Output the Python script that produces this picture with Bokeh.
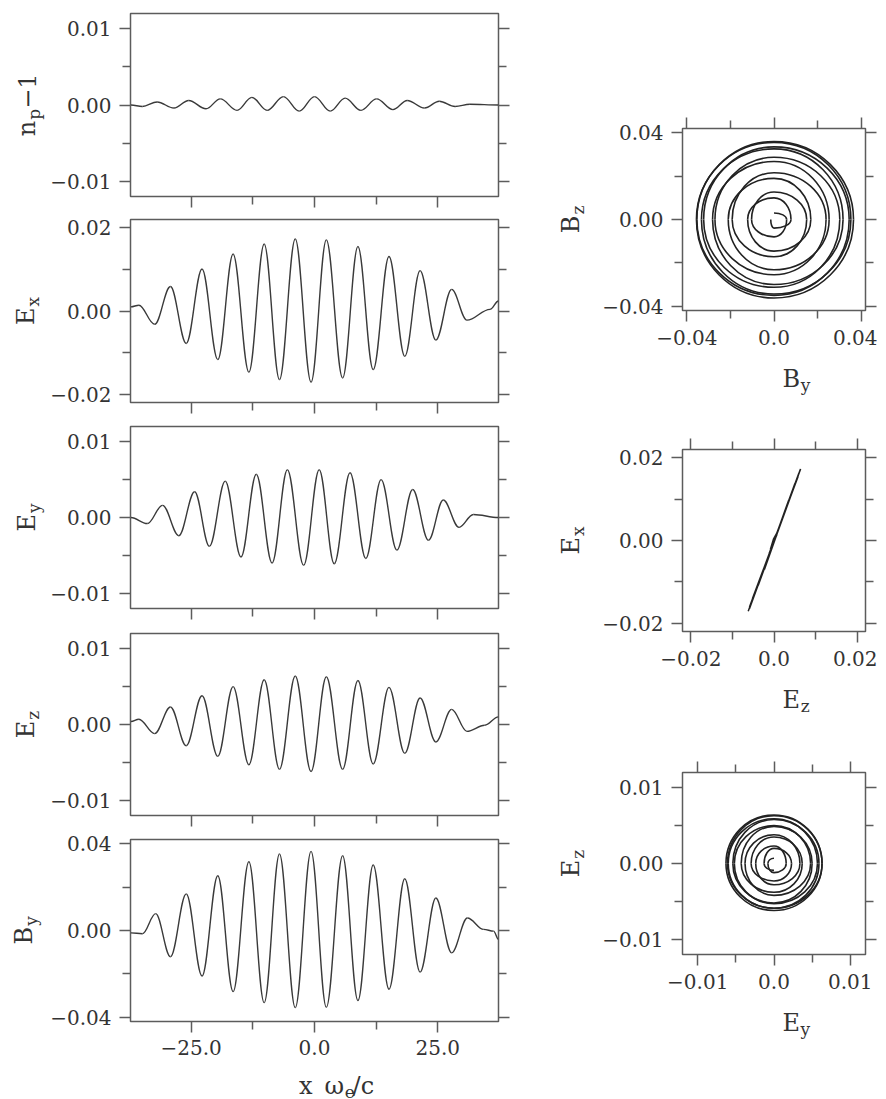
from math import pi
import numpy as np
from bokeh.plotting import figure
from bokeh.models import Range1d, FixedTicker, LinearAxis, ColumnDataSource, CustomLabelingPolicy
from bokeh.core.properties import value
from bokeh.layouts import row, column
from bokeh.embed import file_html
from bokeh.resources import INLINE

# ---------------- data ----------------
x_lim = [-37.3, 37.3]
x_ticks = [-25.0, 0.0, 25.0]
x_minor = [-12.5, 12.5]
x_tick_labels = ["\u221225.0", "0.0", "25.0"]

# n_p - 1 : key points (extrema) along x
np_x = [-37.2, -34.9, -31.9, -28.5, -25.5, -22.0, -19.1, -15.7, -12.7, -9.6, -6.3, -3.1,
        0.0, 3.2, 6.2, 9.4, 12.6, 15.9, 18.8, 22.3, 25.3, 28.5, 31.5, 37.3]
np_y = [0.0, -0.0002, 0.0004, -0.0004, 0.0006, -0.0005, 0.0008, -0.0007, 0.0010, -0.0007,
        0.0011, -0.0008, 0.0011, -0.0008, 0.0009, -0.0007, 0.0008, -0.0006, 0.0006, -0.0004,
        0.0005, -0.0002, 0.0001, 0.0]

# E_x
ex_x = [-37.2, -35.6, -32.4, -29.2, -26.0, -22.8, -19.6, -16.5, -13.3, -10.2, -7.1, -3.9,
        -0.7, 2.4, 5.7, 8.8, 11.9, 15.1, 18.3, 21.4, 24.6, 27.8, 30.9, 35.6, 37.3]
ex_y = [0.0010, 0.0014, -0.0032, 0.0059, -0.0078, 0.0101, -0.0117, 0.0137, -0.0147, 0.0161,
        -0.0165, 0.0173, -0.0171, 0.0171, -0.0161, 0.0155, -0.0141, 0.0131, -0.0109, 0.0097,
        -0.0070, 0.0052, -0.0022, 0.0004, 0.0024]

# E_y
ey_x = [-37.2, -33.9, -30.8, -27.5, -24.3, -21.3, -18.1, -14.9, -11.8, -8.6, -5.5, -2.2,
        0.95, 4.0, 7.2, 10.4, 13.5, 16.7, 19.9, 23.1, 26.1, 29.3, 32.2, 37.3]
ey_y = [0.0, -0.0008, 0.0016, -0.0024, 0.0034, -0.0038, 0.0048, -0.0052, 0.0057, -0.0060,
        0.0063, -0.0063, 0.0063, -0.0061, 0.0059, -0.0054, 0.0050, -0.0043, 0.0037, -0.0030,
        0.0023, -0.0013, 0.0004, 0.0]

# E_z
ez_x = [-37.2, -35.6, -32.4, -29.2, -26.0, -22.8, -19.6, -16.5, -13.3, -10.2, -7.1, -3.9,
        -0.7, 2.4, 5.7, 8.8, 11.9, 15.1, 18.3, 21.4, 24.6, 27.8, 30.9, 34.5, 37.3]
ez_y = [0.0004, 0.0007, -0.0012, 0.0023, -0.0028, 0.0038, -0.0042, 0.0050, -0.0053, 0.0059,
        -0.0059, 0.0064, -0.0062, 0.0063, -0.0059, 0.0058, -0.0052, 0.0049, -0.0038, 0.0035,
        -0.0023, 0.0020, -0.0009, -0.0001, 0.0010]

# B_y
by_x = [-37.2, -34.9, -32.2, -29.2, -26.0, -22.8, -19.6, -16.5, -13.3, -10.2, -7.1, -3.9,
        -0.7, 2.4, 5.7, 8.8, 11.9, 15.1, 18.3, 21.4, 24.6, 27.8, 31.0, 34.3, 36.3, 37.3]
by_y = [-0.0011, -0.0015, 0.0078, -0.0121, 0.0169, -0.0210, 0.0253, -0.0282, 0.0317, -0.0333,
        0.0353, -0.0356, 0.0365, -0.0354, 0.0345, -0.0323, 0.0302, -0.0271, 0.0239, -0.0192,
        0.0150, -0.0103, 0.0058, 0.0005, -0.0003, -0.0041]

# B_z extrema (only seen in the B_z-B_y hodograph)
bz_x = [-33.9, -30.8, -27.5, -24.3, -21.3, -18.1, -14.9, -11.8, -8.6, -5.5, -2.2, 0.95,
        4.0, 7.2, 10.4, 13.5, 16.7, 19.9, 23.1, 26.1, 29.3, 32.5]
bz_y = [-0.0040, 0.0100, -0.0146, 0.0190, -0.0232, 0.0268, -0.0300, 0.0326, -0.0344, 0.0356,
        -0.0362, 0.0360, -0.0350, 0.0335, -0.0313, 0.0287, -0.0255, 0.0216, -0.0172, 0.0127,
        -0.0080, 0.0030]

# axes of the left panels
left_lims = [0.012, 0.022, 0.012, 0.012, 0.042]
left_ticks = [[-0.01, 0.0, 0.01], [-0.02, 0.0, 0.02], [-0.01, 0.0, 0.01],
              [-0.01, 0.0, 0.01], [-0.04, 0.0, 0.04]]
left_minor = [[-0.005, 0.005], [-0.01, 0.01], [-0.005, 0.005], [-0.005, 0.005], [-0.02, 0.02]]
left_tick_labels = [["\u22120.01", "0.00", "0.01"], ["\u22120.02", "0.00", "0.02"],
                    ["\u22120.01", "0.00", "0.01"], ["\u22120.01", "0.00", "0.01"],
                    ["\u22120.04", "0.00", "0.04"]]

# axes of the right panels
right_lims = [0.042, 0.022, 0.012]
right_ticks = [[-0.04, 0.0, 0.04], [-0.02, 0.0, 0.02], [-0.01, 0.0, 0.01]]
right_minor = [[-0.02, 0.02], [-0.01, 0.01], [-0.005, 0.005]]
right_x_labels = [["\u22120.04", "0.0", "0.04"], ["\u22120.02", "0.0", "0.02"],
                  ["\u22120.01", "0.0", "0.01"]]
right_y_labels = [["\u22120.04", "0.00", "0.04"], ["\u22120.02", "0.00", "0.02"],
                  ["\u22120.01", "0.00", "0.01"]]

# axis titles: (main, subscript, tail)
left_titles = [("n", "p", "\u22121"), ("E", "x", ""), ("E", "y", ""), ("E", "z", ""), ("B", "y", "")]
bottom_title = ("x\u2002\u03c9", "e", "/c")
right_x_titles = [("B", "y", ""), ("E", "z", ""), ("E", "y", "")]
right_y_titles = [("B", "z", ""), ("E", "x", ""), ("E", "z", "")]

# ---------------- style ----------------
FONT = "DejaVu Serif"
TXT = "#333333"
LINE = "#3a3a3a"
FRAME = "#5c5c5c"
TICK_FS = "20px"
MAIN_FS = 24
SUB_FS = 17
A_HALF = 0.3634   # cubic handle for a half-wave
K_QUART = 0.5523  # cubic handle for a quarter turn
# rough advance widths (px) used only to centre the composite titles
WIDTH = {"n": 15.5, "E": 17.5, "B": 18.0, "p": 10.9, "x": 9.5, "y": 9.5, "z": 9.0, "e": 10.0,
         "\u22121": 35.0, "/c": 21.5, "x\u2002\u03c9": 45.0, "": 0.0}

HIDE = CustomLabelingPolicy(code="""
try { for (let i = 0; i < indices.size; i++) indices.unset(i) } catch (e) {}
return indices
""")


def wave_segments(xs, ys):
    x0 = np.array(xs[:-1], float); x1 = np.array(xs[1:], float)
    y0 = np.array(ys[:-1], float); y1 = np.array(ys[1:], float)
    dx = x1 - x0
    return ColumnDataSource(dict(x0=x0, y0=y0, x1=x1, y1=y1,
                                 cx0=x0 + A_HALF * dx, cy0=y0,
                                 cx1=x1 - A_HALF * dx, cy1=y1))


def spiral_segments(u_pos, u_val, v_pos, v_val):
    pts = sorted([(s, a, 0.0, True) for s, a in zip(u_pos, u_val)] +
                 [(s, 0.0, b, False) for s, b in zip(v_pos, v_val)])
    d = {k: [] for k in ("x0", "y0", "x1", "y1", "cx0", "cy0", "cx1", "cy1")}
    for (s0, u0, v0, onu), (s1, u1, v1, _) in zip(pts[:-1], pts[1:]):
        if onu:
            c0 = (u0, K_QUART * v1); c1 = (K_QUART * u0, v1)
        else:
            c0 = (K_QUART * u1, v0); c1 = (u1, K_QUART * v0)
        d["x0"].append(u0); d["y0"].append(v0); d["x1"].append(u1); d["y1"].append(v1)
        d["cx0"].append(c0[0]); d["cy0"].append(c0[1]); d["cx1"].append(c1[0]); d["cy1"].append(c1[1])
    return ColumnDataSource(d)


def style_axis(ax, ticks, minor, labels=None, standoff=8):
    ax.ticker = FixedTicker(ticks=ticks, minor_ticks=minor)
    ax.major_tick_out = 11
    ax.major_tick_in = 0
    ax.minor_tick_out = 8
    ax.minor_tick_in = 0
    ax.major_tick_line_color = FRAME
    ax.minor_tick_line_color = FRAME
    ax.major_tick_line_width = 1.5
    ax.minor_tick_line_width = 1.5
    ax.axis_line_color = None
    if labels is not None:
        ax.major_label_overrides = dict(zip(ticks, labels))
        ax.major_label_text_font = FONT
        ax.major_label_text_font_size = TICK_FS
        ax.major_label_text_color = TXT
        ax.major_label_standoff = standoff
    else:
        ax.major_label_policy = HIDE
        ax.major_label_text_font_size = "0px"
        ax.major_label_standoff = 0


def base_fig(w, h, lb, rb, tb, bb, xr, yr):
    p = figure(width=w, height=h, x_range=Range1d(*xr), y_range=Range1d(*yr),
               output_backend="svg", toolbar_location=None,
               min_border_left=lb, min_border_right=rb, min_border_top=tb, min_border_bottom=bb)
    p.grid.visible = False
    p.outline_line_color = FRAME
    p.outline_line_width = 1.5
    p.background_fill_color = "white"
    p.border_fill_color = "white"
    return p


def strip(px0, py0, w, h):
    """Text strip whose data units are page pixels (y negated)."""
    p = figure(width=w, height=h, x_range=Range1d(px0, px0 + w), y_range=Range1d(-(py0 + h), -py0),
               x_axis_type=None, y_axis_type=None, output_backend="svg", toolbar_location=None,
               min_border=0)
    p.outline_line_color = None
    p.grid.visible = False
    return p


def put(p, x, y, text, size, align, angle):
    p.text(x=[x], y=[-y], text=[text], angle=angle, text_align=align, text_baseline="alphabetic",
           text_font=value(FONT), text_font_size=value(f"{size}px"), text_color=TXT)


def vtitle(p, parts, bx, yc):
    main, sub, tail = parts
    wm, ws, wt = WIDTH[main], WIDTH[sub], WIDTH[tail]
    total = wm + 1 + ws + wt
    j = yc + total / 2.0 - wm          # page y of the main/sub junction
    put(p, bx, j, main, MAIN_FS, "right", pi / 2)
    put(p, bx + 7, j - 1, sub, SUB_FS, "left", pi / 2)
    if tail:
        put(p, bx, j - 1 - ws, tail, MAIN_FS, "left", pi / 2)


def htitle(p, parts, xc, by):
    main, sub, tail = parts
    wm, ws, wt = WIDTH[main], WIDTH[sub], WIDTH[tail]
    total = wm + 1 + ws + wt
    j = xc - total / 2.0 + wm
    put(p, j, by, main, MAIN_FS, "right", 0.0)
    put(p, j + 1, by + 6, sub, SUB_FS, "left", 0.0)
    if tail:
        put(p, j + 1 + ws, by, tail, MAIN_FS, "left", 0.0)


# ---------------- geometry (page pixels) ----------------
LS_W = 47                    # left title strip
L_LB, L_FW, L_RB = 83, 368, 20
L_W = L_LB + L_FW + L_RB     # 471
left_geom = [(13, 183, 18), (5, 183, 19), (5, 182, 20), (5, 182, 15), (9, 182, 43)]
BOT_H = 34
RS_W = 80                    # right title strip
R_LB, R_FW, R_RB = 84, 183, 12
R_W = R_LB + R_FW + R_RB
right_geom = [(128, 182, 50), (54, 182, 50), (56, 182, 50)]
RX_H = 35

left_series = [(np_x, np_y), (ex_x, ex_y), (ey_x, ey_y), (ez_x, ez_y), (by_x, by_y)]
left_title_x = [26, 25, 26, 25, 23]

# ---------------- left column ----------------
left_figs = []
left_centres = []
ytop = 0
for i in range(5):
    tb, fh, bb = left_geom[i]
    lim = left_lims[i]
    p = base_fig(L_W, tb + fh + bb, L_LB, L_RB, tb, bb, x_lim, (-lim, lim))
    xs, ys = left_series[i]
    p.bezier(x0="x0", y0="y0", x1="x1", y1="y1", cx0="cx0", cy0="cy0", cx1="cx1", cy1="cy1",
             source=wave_segments(xs, ys), line_color=LINE, line_width=1.4)
    style_axis(p.yaxis[0], left_ticks[i], left_minor[i], left_tick_labels[i])
    ra = LinearAxis()
    p.add_layout(ra, "right")
    style_axis(ra, left_ticks[i], left_minor[i], None)
    if i == 4:
        style_axis(p.xaxis[0], x_ticks, x_minor, x_tick_labels, standoff=7)
    else:
        style_axis(p.xaxis[0], x_ticks, x_minor, None)
    left_centres.append(ytop + tb + fh / 2.0)
    ytop += tb + fh + bb
    left_figs.append(p)

bottom_strip = strip(LS_W, ytop, L_W, BOT_H)
htitle(bottom_strip, bottom_title, LS_W + L_LB + L_FW / 2.0, ytop + 21)
left_total = ytop + BOT_H

left_strip = strip(0, 0, LS_W, left_total)
for i in range(5):
    vtitle(left_strip, left_titles[i], left_title_x[i], left_centres[i])

# ---------------- right column ----------------
rx0 = LS_W + L_W + RS_W
right_items = []
right_centres = []
ytop = 0
for j in range(3):
    tb, fh, bb = right_geom[j]
    lim = right_lims[j]
    p = base_fig(R_W, tb + fh + bb, R_LB, R_RB, tb, bb, (-lim, lim), (-lim, lim))
    if j == 0:
        p.bezier(x0="x0", y0="y0", x1="x1", y1="y1", cx0="cx0", cy0="cy0", cx1="cx1", cy1="cy1",
                 source=spiral_segments(by_x[1:23], by_y[1:23], bz_x, bz_y),
                 line_color="#222222", line_width=1.6)
    elif j == 1:
        p.line(ez_y, ex_y, line_color="#222222", line_width=1.5)
    else:
        p.bezier(x0="x0", y0="y0", x1="x1", y1="y1", cx0="cx0", cy0="cy0", cx1="cx1", cy1="cy1",
                 source=spiral_segments(ey_x[1:22], ey_y[1:22], ez_x[1:23], ez_y[1:23]),
                 line_color="#222222", line_width=1.6)
    style_axis(p.xaxis[0], right_ticks[j], right_minor[j], right_x_labels[j])
    style_axis(p.yaxis[0], right_ticks[j], right_minor[j], right_y_labels[j])
    ta = LinearAxis()
    p.add_layout(ta, "above")
    style_axis(ta, right_ticks[j], right_minor[j], None)
    ra = LinearAxis()
    p.add_layout(ra, "right")
    style_axis(ra, right_ticks[j], right_minor[j], None)
    right_centres.append(ytop + tb + fh / 2.0)
    ytop += tb + fh + bb
    s = strip(rx0, ytop, R_W, RX_H)
    htitle(s, right_x_titles[j], rx0 + R_LB + R_FW / 2.0, ytop + 18)
    ytop += RX_H
    right_items += [p, s]

right_strip = strip(LS_W + L_W, 0, RS_W, ytop)
for j in range(3):
    vtitle(right_strip, right_y_titles[j], LS_W + L_W + 52, right_centres[j])

layout = row(left_strip, column(*left_figs, bottom_strip), right_strip, column(*right_items))
open("out.html", "w").write(file_html(layout, INLINE))
